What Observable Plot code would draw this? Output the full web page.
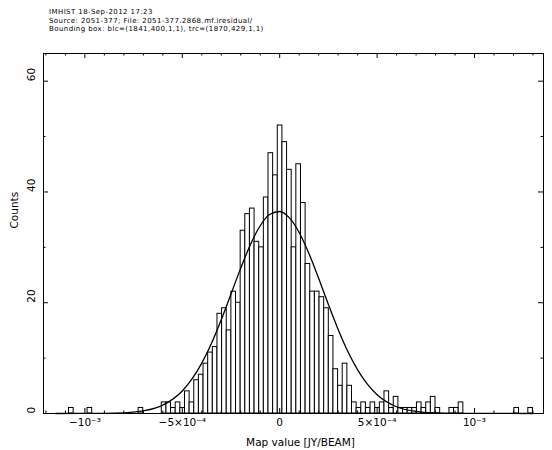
<!DOCTYPE html>
<html><head><meta charset="utf-8">
<script src="https://cdn.jsdelivr.net/npm/d3@7"></script>
<script src="https://cdn.jsdelivr.net/npm/@observablehq/plot@0.6"></script>
<style>
body{margin:0;background:#fff;width:552px;height:450px;overflow:hidden;position:relative;font-family:"DejaVu Sans",sans-serif}
#hdr{position:absolute;left:49px;top:8px;font-size:7px;line-height:8.5px;letter-spacing:0.42px;color:#000;white-space:nowrap}
#chart{position:absolute;left:0;top:40px}
</style></head><body>
<div id="hdr"></div>
<div id="chart"></div>
<script>
// ---- data ----
const headerLines = [
  "IMHIST 18-Sep-2012 17:23",
  "Source: 2051-377; File: 2051-377.2868.mf.iresidual/",
  "Bounding box: blc=(1841,400,1,1), trc=(1870,429,1,1)"
];
const histMin = -1.0816e-3;
const histMax = 1.300e-3;
const counts = [
  1,0,0,0,1,0,0,0,0,0, 0,0,0,0,0,1,0,0,0,0,
  2,2,1,2,1,4,2,6,7,9, 11,12,18,19,15,22,20,33,36,37,
  31,30,39,47,43,52,49,44,30,45, 38,27,22,22,21,19,14,8,5,9,
  5,2,1,2,1,2,1,2,4,1, 3,1,1,1,1,2,1,2,3,1,
  0,0,1,1,2,0,0,0,0,0, 0,0,0,0,0,0,1,0,0,1
];
const gaussX = [-1.15e-3,-9e-4,-8e-4,-7e-4,-6e-4,-5e-4,-4.5e-4,-4e-4,-3.5e-4,-3e-4,-2.5e-4,-2e-4,-1.5e-4,-1e-4,-5e-5,0,5e-5,1e-4,1.5e-4,2e-4,2.5e-4,3e-4,3.5e-4,4e-4,4.5e-4,5e-4,6e-4,7e-4,8e-4,9e-4,1.3e-3];
const gaussY = [0,0.03,0.12,0.47,1.52,4.07,6.23,9.10,12.70,16.94,21.57,26.25,30.52,33.90,35.97,36.47,35.32,32.69,28.89,24.41,19.69,15.18,11.18,7.87,5.29,3.40,1.22,0.37,0.09,0.02,0];
const xTickValues = [-1e-3,-5e-4,0,5e-4,1e-3];
const xTickLabels = ["\u221210\u207B\u00B3","\u22125\u00D710\u207B\u2074","0","5\u00D710\u207B\u2074","10\u207B\u00B3"];
const yTickValues = [0,20,40,60];
const yTickLabels = ["0","20","40","60"];
const xLabel = "Map value [JY/BEAM]";
const yLabel = "Counts";
const xDomain = [-1.2125e-3, 1.3542e-3];
const yDomain = [0, 65];

// ---- build ----
document.getElementById("hdr").innerHTML = headerLines.map(s => `<div>${s}</div>`).join("");
const nb = counts.length, bw = (histMax - histMin) / nb;
const bins = counts.map((c, i) => ({x1: histMin + i * bw, x2: histMin + (i + 1) * bw, count: c})).filter(d => d.count > 0);
const gauss = gaussX.map((x, i) => ({x, y: gaussY[i]}));
const xMinor = d3.range(-12, 14).map(k => k * 1e-4).filter(v => !xTickValues.some(t => Math.abs(t - v) < 1e-9));
const yMinor = [10, 30, 50];

const W = 552, H = 410, mL = 43, mR = 9, mT = 13, mB = 37;
const fw = W - mL - mR, fh = H - mT - mB;

const plot = Plot.plot({
  width: W, height: H,
  marginLeft: mL, marginRight: mR, marginTop: mT, marginBottom: mB,
  x: {domain: xDomain, axis: null},
  y: {domain: yDomain, axis: null},
  style: {fontFamily: '"DejaVu Sans", sans-serif', fontSize: "10.5px", color: "#000", background: "#fff", overflow: "visible"},
  marks: [
    Plot.rect(bins, {x1: "x1", x2: "x2", y1: () => 0, y2: "count", fill: "white", stroke: "black", strokeWidth: 1}),
    Plot.line(gauss, {x: "x", y: "y", stroke: "black", strokeWidth: 1.3, curve: "monotone-x"}),
    Plot.frame({stroke: "black", strokeWidth: 1}),
    Plot.ruleX(xTickValues, {x: d => d, insetTop: fh - 5, stroke: "black"}),
    Plot.ruleX(xTickValues, {x: d => d, insetBottom: fh - 5, stroke: "black"}),
    Plot.ruleX(xMinor, {x: d => d, insetTop: fh - 2.5, stroke: "black"}),
    Plot.ruleX(xMinor, {x: d => d, insetBottom: fh - 2.5, stroke: "black"}),
    Plot.ruleY(yTickValues, {y: d => d, insetRight: fw - 5, stroke: "black"}),
    Plot.ruleY(yTickValues, {y: d => d, insetLeft: fw - 5, stroke: "black"}),
    Plot.ruleY(yMinor, {y: d => d, insetRight: fw - 2.5, stroke: "black"}),
    Plot.ruleY(yMinor, {y: d => d, insetLeft: fw - 2.5, stroke: "black"}),
    Plot.text(xTickValues, {x: d => d, text: (d, i) => xTickLabels[i], frameAnchor: "bottom", dy: 12, fill: "black"}),
    Plot.text(yTickValues, {y: d => d, text: (d, i) => yTickLabels[i], frameAnchor: "left", dx: -11.5, rotate: -90, fill: "black"}),
    Plot.text([xLabel], {text: d => d, frameAnchor: "bottom", dy: 32, dx: 7, fill: "black"}),
    Plot.text([yLabel], {text: d => d, frameAnchor: "left", dx: -29, dy: -5, rotate: -90, fill: "black"})
  ]
});
document.getElementById("chart").appendChild(plot);
</script>
</body></html>
